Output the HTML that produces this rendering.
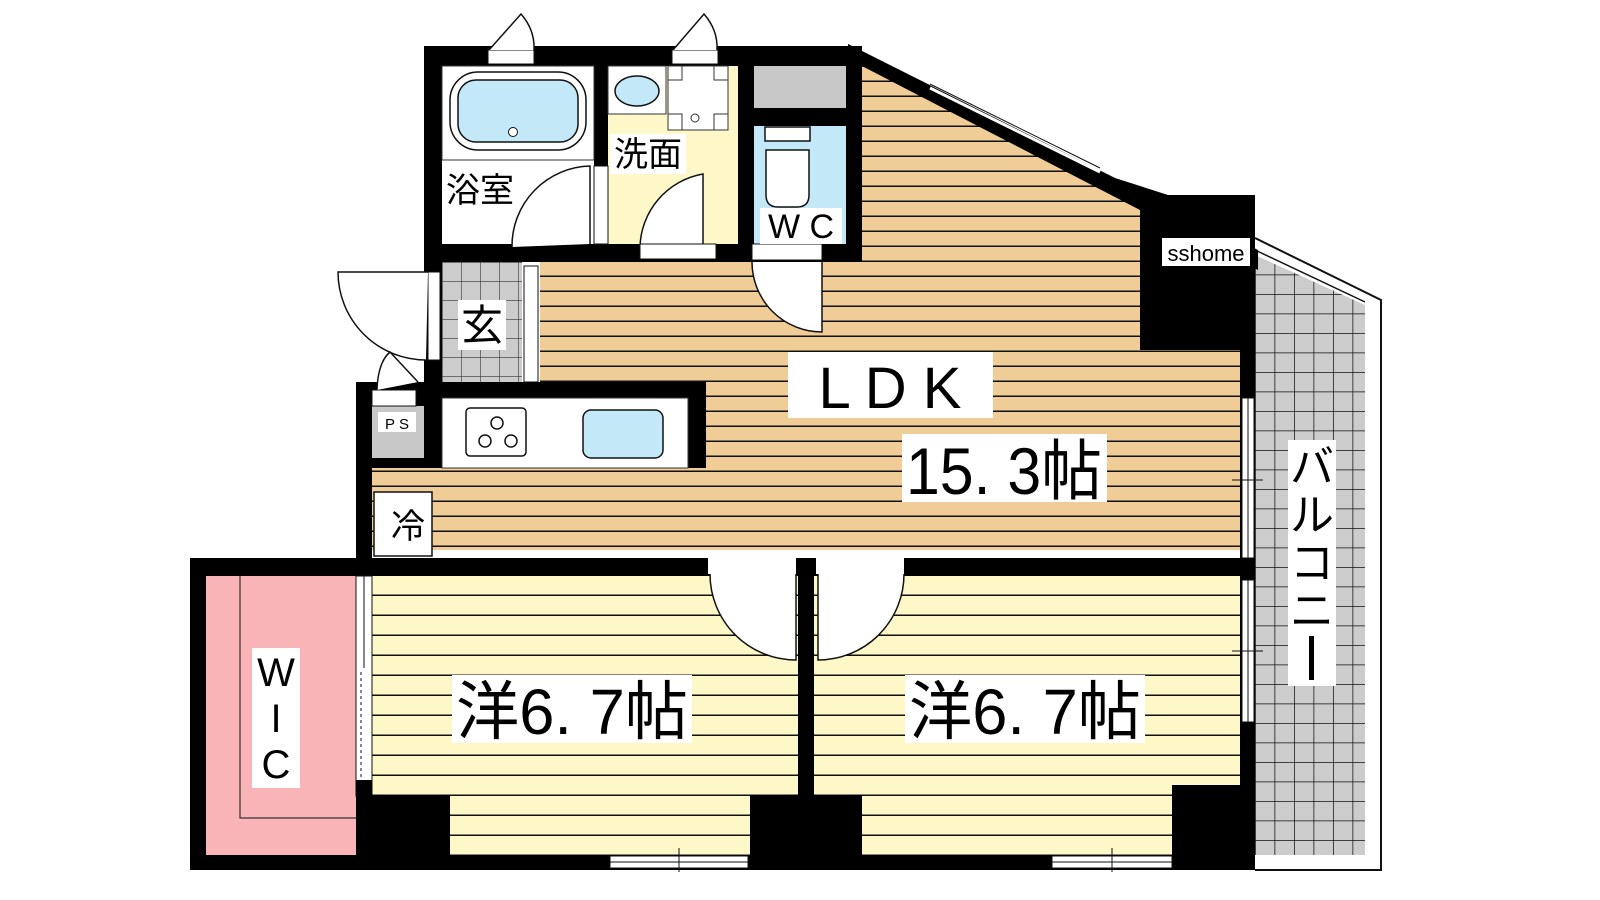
<!DOCTYPE html>
<html><head><meta charset="utf-8"><style>
html,body{margin:0;padding:0;background:#fff;}
svg{display:block;}
text{font-family:"Liberation Sans","Noto Sans CJK JP",sans-serif;}
</style></head><body>
<svg width="1600" height="900" viewBox="0 0 1600 900" xmlns="http://www.w3.org/2000/svg">
<defs>
<pattern id="tan" width="20" height="15" patternUnits="userSpaceOnUse" y="262">
<rect width="20" height="15" fill="#f0cc96"/><rect y="13.5" width="20" height="1.5" fill="#111"/></pattern>
<pattern id="yel" width="20" height="20" patternUnits="userSpaceOnUse" y="576">
<rect width="20" height="20" fill="#fef8c8"/><rect y="18.5" width="20" height="1.5" fill="#111"/></pattern>
<pattern id="tile" width="19.5" height="19.5" patternUnits="userSpaceOnUse" x="1255" y="255">
<rect width="19.5" height="19.5" fill="#cccccc"/><path d="M0 0H19.5M0 0V19.5" stroke="#111" stroke-width="1.5"/></pattern>
<pattern id="tile2" width="19" height="19" patternUnits="userSpaceOnUse" x="442" y="262">
<rect width="19" height="19" fill="#cccccc"/><path d="M0 0H19M0 0V19" stroke="#333" stroke-width="1.2"/></pattern>
</defs>

<!-- balcony -->
<polygon points="1255,255 1365,305 1365,855 1255,855" fill="url(#tile)"/>
<polyline points="1255,238 1381,300 1381,870 1255,870" fill="none" stroke="#111" stroke-width="2"/>
<line x1="1255" y1="250" x2="1365" y2="302" stroke="#111" stroke-width="1.5"/>

<!-- LDK floor -->
<polygon points="862,66 1140,205 1140,350 1240,350 1240,550 372,550 372,468 706,468 706,382 540,382 540,262 862,262" fill="url(#tan)"/>
<!-- bedrooms -->
<rect x="372" y="576" width="426" height="280" fill="url(#yel)"/>
<rect x="814" y="576" width="426" height="280" fill="url(#yel)"/>

<!-- top block -->
<rect x="424" y="46" width="438" height="216" fill="#000"/>
<rect x="442" y="66" width="152" height="178" fill="#fff"/>
<rect x="608" y="66" width="130" height="178" fill="#fef8c8"/>
<rect x="608" y="66" width="58" height="48" fill="#fff" stroke="#333"/>
<ellipse cx="637" cy="91" rx="22" ry="15" fill="#c3e8f8" stroke="#111" stroke-width="1.5"/>
<rect x="668" y="66" width="60" height="64" fill="#fff" stroke="#333"/>
<path d="M668 80h14v-14M714 66v14h14M668 114h14v16M714 130v-16h14" fill="none" stroke="#333"/>
<circle cx="695" cy="118" r="4" fill="#fff" stroke="#333"/>
<rect x="754" y="66" width="92" height="42" fill="#c8c8c8"/>
<rect x="754" y="126" width="92" height="118" fill="#c3e8f8"/>
<rect x="765" y="127" width="45" height="14" fill="#fff" stroke="#111" stroke-width="1.5"/>
<path d="M766 150 v45 q0 12 12 12 h19 q12 0 12-12 v-45 z" fill="#fff" stroke="#111" stroke-width="1.5"/>
<!-- bath -->
<rect x="442" y="66" width="152" height="94" fill="#fff" stroke="#333"/>
<rect x="450" y="72" width="136" height="78" rx="28" fill="#fff" stroke="#111" stroke-width="1.5"/>
<rect x="458" y="80" width="120" height="62" rx="18" fill="#c3e8f8" stroke="#111" stroke-width="1.5"/>
<circle cx="513" cy="132" r="4.5" fill="#fff" stroke="#111"/>
<path d="M512 247 A80 80 0 0 1 590 166 V244" fill="#fff" stroke="#111" stroke-width="1.5"/>
<rect x="594" y="166" width="14" height="78" fill="#fff" stroke="#111"/>
<path d="M640 247 A76 76 0 0 1 703 174 V247" fill="#fff" stroke="#111" stroke-width="1.5"/>
<rect x="640" y="244" width="76" height="15" fill="#fff" stroke="#111"/>
<rect x="752" y="244" width="70" height="16" fill="#fff" stroke="#111"/>
<path d="M752 262 A70 70 0 0 0 822 332 V262" fill="#fff" stroke="#111" stroke-width="1.5"/>
<!-- top windows/doors -->
<rect x="488" y="50" width="46" height="14" fill="#fff" stroke="#111"/>
<path d="M489 50 L521 14 Q535 30 534 50" fill="#fff" stroke="#111" stroke-width="1.5"/>
<rect x="672" y="50" width="46" height="14" fill="#fff" stroke="#111"/>
<path d="M673 50 L704 14 Q718 30 717 50" fill="#fff" stroke="#111" stroke-width="1.5"/>

<!-- diagonal wall -->
<polygon points="848,44 1115,178 1215,210 1140,210 1100,180 862,66 848,66" fill="#000"/>
<polygon points="848,44 1258,250 1258,270 1140,210 862,66" fill="#000"/>
<line x1="930" y1="88" x2="1100" y2="172" stroke="#fff" stroke-width="3"/>
<line x1="930" y1="84" x2="1100" y2="168" stroke="#111" stroke-width="1"/>
<rect x="1140" y="195" width="115" height="155" fill="#000"/>
<polygon points="1140,195 1255,240 1255,260 1140,210" fill="#000"/>
<rect x="1162" y="238" width="88" height="28" fill="#fff"/>
<text x="1206" y="261" font-size="22" text-anchor="middle" fill="#000">sshome</text>
<!-- right wall -->
<rect x="1240" y="350" width="15" height="520" fill="#000"/>
<rect x="1242" y="398" width="12" height="160" fill="#fff" stroke="#111"/>
<line x1="1248" y1="398" x2="1248" y2="558" stroke="#111"/>
<line x1="1232" y1="480" x2="1263" y2="480" stroke="#111"/>
<rect x="1242" y="580" width="12" height="142" fill="#fff" stroke="#111"/>
<line x1="1248" y1="580" x2="1248" y2="722" stroke="#111"/>
<line x1="1232" y1="651" x2="1263" y2="651" stroke="#111"/>

<!-- genkan -->
<rect x="424" y="262" width="18" height="120" fill="#000"/>
<rect x="442" y="262" width="80" height="120" fill="url(#tile2)"/>
<rect x="524" y="266" width="14" height="116" fill="#fff" stroke="#111"/>
<rect x="428" y="272" width="12" height="88" fill="#fff" stroke="#111"/>
<path d="M428 272 H338 A88 88 0 0 0 426 360" fill="#fff" stroke="#111" stroke-width="1.5"/>

<!-- kitchen block -->
<rect x="356" y="382" width="350" height="86" fill="#000"/>
<rect x="356" y="382" width="16" height="190" fill="#000"/>
<rect x="442" y="398" width="246" height="70" fill="#fff" stroke="#333"/>
<rect x="466" y="408" width="60" height="48" rx="4" fill="#fff" stroke="#111" stroke-width="1.5"/>
<circle cx="485" cy="441" r="6" fill="none" stroke="#111" stroke-width="1.5"/>
<circle cx="497" cy="423" r="6" fill="none" stroke="#111" stroke-width="1.5"/>
<circle cx="511" cy="441" r="6" fill="none" stroke="#111" stroke-width="1.5"/>
<rect x="583" y="410" width="80" height="48" rx="8" fill="#c3e8f8" stroke="#111" stroke-width="1.5"/>
<rect x="372" y="406" width="52" height="52" fill="#c8c8c8"/>
<rect x="378" y="412" width="38" height="20" fill="#fff"/>
<text x="397" y="429" font-size="15" text-anchor="middle">P S</text>
<rect x="372" y="390" width="44" height="16" fill="#fff" stroke="#111"/>
<path d="M377 390 Q378 362 390 352 L418 382" fill="#fff" stroke="#111" stroke-width="1.5"/>
<rect x="374" y="492" width="58" height="64" fill="#fff" stroke="#111" stroke-width="1.5"/>
<text x="408" y="538" font-size="34" text-anchor="middle">冷</text>

<!-- middle horizontal wall -->
<rect x="190" y="558" width="1065" height="18" fill="#000"/>
<rect x="798" y="560" width="16" height="235" fill="#000"/>
<rect x="708" y="558" width="88" height="16" fill="#fff"/>
<path d="M710 574 A86 86 0 0 0 796 660 V574" fill="#fff" stroke="#111" stroke-width="1.5"/>
<rect x="816" y="558" width="88" height="16" fill="#fff"/>
<path d="M904 574 A86 86 0 0 1 818 660 V574" fill="#fff" stroke="#111" stroke-width="1.5"/>

<!-- WIC -->
<rect x="190" y="558" width="182" height="312" fill="#000"/>
<rect x="206" y="576" width="150" height="279" fill="#f8b4b6"/>
<path d="M240 576 V818 H356" fill="none" stroke="#333" stroke-width="1.2"/>
<rect x="356" y="576" width="16" height="220" fill="#fff" stroke="#111"/>
<line x1="364" y1="576" x2="364" y2="668" stroke="#111"/>
<line x1="361" y1="672" x2="361" y2="780" stroke="#111" stroke-dasharray="3,3"/>
<rect x="356" y="780" width="16" height="90" fill="#000"/>
<rect x="252" y="648" width="48" height="140" fill="#fff"/>
<text x="276" y="686" font-size="40" text-anchor="middle">W</text>
<text x="276" y="732" font-size="40" text-anchor="middle">I</text>
<text x="276" y="778" font-size="40" text-anchor="middle">C</text>

<!-- bottom blocks and wall -->
<rect x="356" y="795" width="94" height="62" fill="#000"/>
<rect x="750" y="795" width="112" height="62" fill="#000"/>
<rect x="1172" y="785" width="70" height="72" fill="#000"/>
<rect x="190" y="855" width="1065" height="15" fill="#000"/>
<rect x="610" y="856" width="138" height="12" fill="#fff" stroke="#111"/>
<line x1="610" y1="862" x2="748" y2="862" stroke="#111"/>
<line x1="679" y1="848" x2="679" y2="872" stroke="#111"/>
<rect x="1052" y="856" width="120" height="12" fill="#fff" stroke="#111"/>
<line x1="1052" y1="862" x2="1172" y2="862" stroke="#111"/>
<line x1="1112" y1="848" x2="1112" y2="872" stroke="#111"/>

<!-- labels -->
<rect x="442" y="170" width="76" height="40" fill="#fff"/>
<text x="480" y="202" font-size="34" text-anchor="middle">浴室</text>
<rect x="610" y="134" width="76" height="40" fill="#fff"/>
<text x="648" y="166" font-size="34" text-anchor="middle">洗面</text>
<rect x="760" y="208" width="82" height="36" fill="#fff"/>
<text x="801" y="238" font-size="34" text-anchor="middle">W C</text>
<rect x="458" y="300" width="48" height="50" fill="#fff"/>
<text x="482" y="340" font-size="42" text-anchor="middle">玄</text>
<rect x="788" y="352" width="205" height="66" fill="#fff"/>
<text x="890" y="408" font-size="58" text-anchor="middle">L D K</text>
<rect x="902" y="434" width="205" height="68" fill="#fff"/>
<text x="1004" y="494" font-size="66" text-anchor="middle" textLength="196" lengthAdjust="spacingAndGlyphs">15. 3帖</text>
<rect x="452" y="675" width="240" height="68" fill="#fff"/>
<text x="572" y="734" font-size="64" text-anchor="middle" textLength="232" lengthAdjust="spacingAndGlyphs">洋6. 7帖</text>
<rect x="905" y="675" width="240" height="68" fill="#fff"/>
<text x="1025" y="734" font-size="64" text-anchor="middle" textLength="232" lengthAdjust="spacingAndGlyphs">洋6. 7帖</text>
<rect x="1288" y="440" width="48" height="246" fill="#fff"/>
<text x="1312" y="482" font-size="44" text-anchor="middle">バ</text>
<text x="1312" y="530" font-size="44" text-anchor="middle">ル</text>
<text x="1312" y="578" font-size="44" text-anchor="middle">コ</text>
<text x="1312" y="626" font-size="44" text-anchor="middle">ニ</text>
<rect x="1309" y="636" width="5" height="44" fill="#000"/>
</svg>
</body></html>
